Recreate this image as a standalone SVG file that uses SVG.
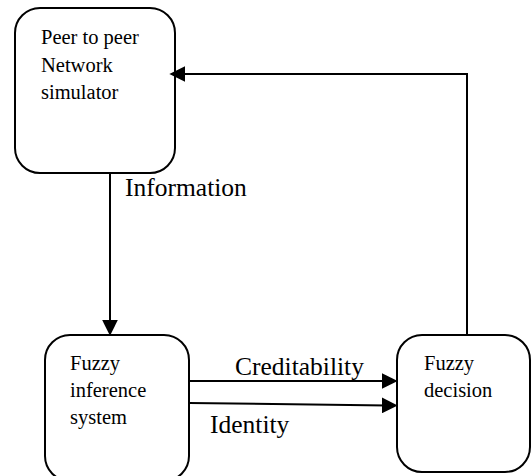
<svg xmlns="http://www.w3.org/2000/svg" width="531" height="476" viewBox="0 0 531 476">
  <style>
    .box { fill: #ffffff; stroke: #000000; stroke-width: 2; }
    .conn { fill: none; stroke: #000000; stroke-width: 2; }
    .lbl { font-family: "Liberation Serif", "Times New Roman", serif; font-size: 20.5px; fill: #000000; }
    .clbl { font-family: "Liberation Serif", "Times New Roman", serif; font-size: 25.5px; fill: #000000; }
  </style>
  <defs>
    <marker id="arrow" markerUnits="userSpaceOnUse" markerWidth="16" markerHeight="16" viewBox="0 0 15 15" refX="5" refY="7.5" orient="auto">
      <path d="M0,0 L15,7.5 L0,15 z" fill="#000000"/>
    </marker>
  </defs>

  <g id="p2p-simulator">
    <rect class="box" x="15" y="8" width="160" height="165" rx="25" ry="25"/>
    <text class="lbl" x="41" y="44">Peer to peer</text>
    <text class="lbl" x="41" y="72">Network</text>
    <text class="lbl" x="41" y="99">simulator</text>
  </g>

  <g id="fuzzy-inference">
    <rect class="box" x="45" y="335" width="144" height="146" rx="25" ry="25"/>
    <text class="lbl" x="70" y="370">Fuzzy</text>
    <text class="lbl" x="70" y="397">inference</text>
    <text class="lbl" x="70" y="424">system</text>
  </g>

  <g id="fuzzy-decision">
    <rect class="box" x="397" y="335" width="133" height="137" rx="25" ry="25"/>
    <text class="lbl" x="424" y="370">Fuzzy</text>
    <text class="lbl" x="424" y="397">decision</text>
  </g>

  <g id="connectors">
    <!-- simulator to inference -->
    <path class="conn" d="M110,173 L110,325" marker-end="url(#arrow)"/>
    <text class="clbl" x="125" y="196">Information</text>
    <!-- inference to decision -->
    <path class="conn" d="M189,381 L387,381" marker-end="url(#arrow)"/>
    <text class="clbl" x="235" y="375">Creditability</text>
    <path class="conn" d="M189,403 L387,405.4" marker-end="url(#arrow)"/>
    <text class="clbl" x="210" y="433">Identity</text>
    <!-- decision back to simulator -->
    <path class="conn" d="M467,335 L467,74 L180,74" marker-end="url(#arrow)"/>
  </g>
</svg>
